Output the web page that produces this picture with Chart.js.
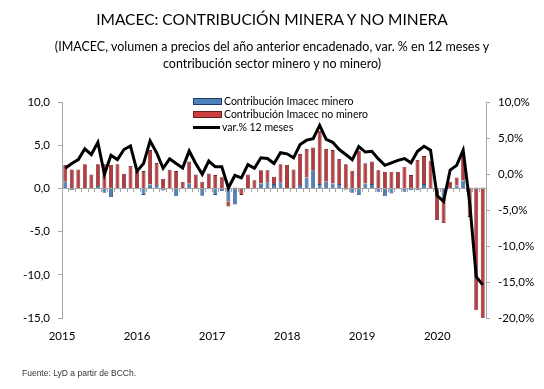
<!DOCTYPE html>
<html>
<head>
<meta charset="utf-8">
<script src="https://cdn.jsdelivr.net/npm/chart.js@4.4.1/dist/chart.umd.min.js"></script>
<style>
    body { margin: 0; background: #fff; }
    #wrap { position: relative; width: 544px; height: 389px; font-family: Lato, 'Open Sans', sans-serif; color: #000; }
    #chart { position: absolute; left: 0; top: 0; }
    .title { position: absolute; left: 0; width: 544px; text-align: center; white-space: nowrap; }
    #t1 { top: 10px; font-size: 15.5px; }
    #t2 { top: 38px; font-size: 12.5px; line-height: 17px; }
    #legend { position: absolute; left: 193px; top: 95px; font-size: 10.5px; line-height: 13px; }
    .item { display: flex; align-items: center; height: 13px; }
    .box { width: 27px; height: 5px; margin-right: 2px; }
    .dash { width: 27px; height: 3px; background: #000; margin-right: 2px; }
    #source { position: absolute; left: 22px; top: 368px; font-family: 'Liberation Sans', Arial, sans-serif; font-size: 8.5px; color: #333; }
</style>
</head>
<body>
<div id="wrap">
    <canvas id="chart" width="544" height="389"></canvas>
    <div class="title" id="t1">IMACEC: CONTRIBUCIÓN MINERA Y NO MINERA</div>
    <div class="title" id="t2">(IMACEC, volumen a precios del año anterior encadenado, var. % en 12 meses y<br>contribución sector minero y no minero)</div>
    <div id="legend">
        <div class="item"><span class="box" style="background:#4f81bd;border:1px solid #1f3d66"></span>Contribución Imacec minero</div>
        <div class="item"><span class="box" style="background:#c9403f;border:1px solid #6e1c1c"></span>Contribución Imacec no minero</div>
        <div class="item"><span class="dash"></span>var.% 12 meses</div>
    </div>
    <div id="source">Fuente: LyD a partir de BCCh.</div>
</div>
<script>
// ── Datos (ene-2015 a may-2020) ──────────────────────────────────────────────

const YEARS = [2015, 2016, 2017, 2018, 2019, 2020];
const MONTHS = ['ene', 'feb', 'mar', 'abr', 'may', 'jun', 'jul', 'ago', 'sep', 'oct', 'nov', 'dic'];
const N_MONTHS = 65;

// contribución minera (pp)
const MINERO = [
    0.77, -0.2, -0.1, -0.1, -0.1, 0.27, -0.5, -1.0, -0.1, -0.1, -0.1, -0.1,
    -0.75, 0.45, 0.4, -0.25, -0.1, -0.9, 0.05, 0.55, -0.1, -0.85, -0.1, -0.75,
    -0.3, -1.5, -1.85, -0.05, -0.1, -0.05, 0.58, 0.7, 0.5, 0.7, 0.05, 0.05,
    0.4, 1.27, 2.1, 0.5, 0.77, 0.58, 0.5, -0.15, -0.5, -0.77, 0.58, 0.5,
    -0.4, -0.9, -0.6, -0.1, -0.4, -0.2, -0.2, 0.5, 0.05, -0.1, -1.3, 0.05,
    0.35, 0.9, 0.1, 0.1, 0.1,
];

// contribución no minera (pp)
const NO_MINERO = [
    1.93, 2.2, 2.2, 2.8, 1.6, 2.53, 2.8, 2.7, 2.8, 1.7, 2.6, 2.05,
    2.0, 3.98, 2.56, 1.1, 2.15, 2.0, 0.72, 2.57, 1.6, 0.77, 1.73, 1.54,
    1.3, -0.6, 0.1, -0.7, 1.6, 0.93, 1.52, 1.4, 0.85, 2.1, 2.65, 2.15,
    3.6, 3.31, 2.64, 6.15, 3.81, 3.85, 2.9, 2.8, 2.05, 4.4, 2.32, 2.6,
    2.1, 1.93, 1.93, 1.93, 2.5, 1.54, 3.3, 3.24, 3.15, -3.55, -2.7, 0.72,
    0.92, 3.34, -3.3, -14.1, -15.3,
];

// var. % 12 meses (eje derecho)
const VAR_12M = [
    0.8, 1.45, 2.0, 3.5, 2.7, 4.4, -0.05, 2.6, 2.0, 3.4, 3.9, 0.4,
    1.45, 4.6, 2.95, 0.8, 2.1, 1.45, 0.85, 3.2, 1.45, -0.05, 1.8, 1.0,
    1.0, -1.95, -0.2, -0.55, 1.3, 0.8, 2.25, 2.15, 1.45, 2.95, 2.8, 2.25,
    4.1, 4.7, 4.9, 6.75, 4.8, 4.4, 3.4, 2.7, 2.0, 3.8, 3.05, 3.15,
    2.1, 1.2, 1.55, 1.9, 2.15, 1.55, 3.15, 3.85, 3.3, -3.0, -3.8, 0.55,
    1.2, 3.3, -4.0, -14.25, -15.4,
];

const LEFT_TICKS = { min: -15, max: 10, step: 5 };
const RIGHT_TICKS = { min: -20, max: 10, step: 5 };
const YEAR_AXIS = { min: 2015, max: 2020.65 };

const labels = [];
YEARS.forEach(y => MONTHS.forEach(m => {
    if (labels.length < N_MONTHS) labels.push(`${m}-${String(y).slice(2)}`);
}));

// ── Gráfico ──────────────────────────────────────────────────────────────────

const FONT = { family: 'Lato, "Open Sans", sans-serif', size: 11.5 };
const AXIS_GREY = '#a6a6a6';
const fmt = (v) => v.toFixed(1).replace('.', ',');

new Chart(document.getElementById('chart'), {
    type: 'bar',
    data: {
        labels,
        datasets: [
            {
                type: 'line',
                label: 'var.% 12 meses',
                data: VAR_12M,
                yAxisID: 'y1',
                borderColor: '#000',
                borderWidth: 3,
                pointRadius: 0,
                tension: 0,
                order: 0,
            },
            {
                label: 'Contribución Imacec minero',
                data: MINERO,
                yAxisID: 'y',
                stack: 'imacec',
                backgroundColor: '#4f81bd',
                borderColor: '#2a4a78',
                borderWidth: 0.8,
                barPercentage: 0.6,
                categoryPercentage: 1,
                clip: 0,
                order: 1,
            },
            {
                label: 'Contribución Imacec no minero',
                data: NO_MINERO,
                yAxisID: 'y',
                stack: 'imacec',
                backgroundColor: '#b9393d',
                borderColor: '#6e1c20',
                borderWidth: 0.8,
                barPercentage: 0.6,
                categoryPercentage: 1,
                clip: 0,
                order: 2,
            },
        ],
    },
    options: {
        responsive: false,
        devicePixelRatio: 1,
        animation: false,
        layout: { padding: { top: 102, bottom: 45, left: 0, right: 0 } },
        plugins: { legend: { display: false }, tooltip: { enabled: false } },
        scales: {
            x: {
                position: { y: 0 },
                stacked: true,
                offset: true,
                grid: { offset: true, drawOnChartArea: false, tickLength: 3, color: AXIS_GREY },
                border: { color: AXIS_GREY },
                ticks: { display: false },
                afterFit: (s) => { s.height = 0; },
            },
            // años: el rótulo de Excel no coincide con enero, va cada ~11,5 meses
            x2: {
                type: 'linear',
                position: 'bottom',
                offset: false,
                min: YEAR_AXIS.min,
                max: YEAR_AXIS.max,
                grid: { display: false, drawTicks: false, offset: false },
                border: { display: false },
                afterBuildTicks: (s) => { s.ticks = YEARS.map(v => ({ value: v })); },
                ticks: {
                    padding: 11, autoSkip: false, maxRotation: 0, color: '#000', font: FONT,
                    callback: (v) => String(v),
                },
                afterFit: (s) => { s.height = 26; },
            },
            y: {
                position: 'left',
                stacked: true,
                min: LEFT_TICKS.min,
                max: LEFT_TICKS.max,
                grid: { drawOnChartArea: false, tickLength: 4, color: AXIS_GREY },
                border: { color: AXIS_GREY },
                ticks: { stepSize: LEFT_TICKS.step, padding: 8, color: '#000', font: FONT, callback: (v) => fmt(v) },
                afterFit: (s) => { s.width = 62; },
            },
            y1: {
                position: 'right',
                min: RIGHT_TICKS.min,
                max: RIGHT_TICKS.max,
                grid: { drawOnChartArea: false, tickLength: 4, color: AXIS_GREY },
                border: { color: AXIS_GREY },
                ticks: { stepSize: RIGHT_TICKS.step, padding: 8, color: '#000', font: FONT, callback: (v) => fmt(v) + '%' },
                afterFit: (s) => { s.width = 58; },
            },
        },
    },
});
</script>
</body>
</html>
